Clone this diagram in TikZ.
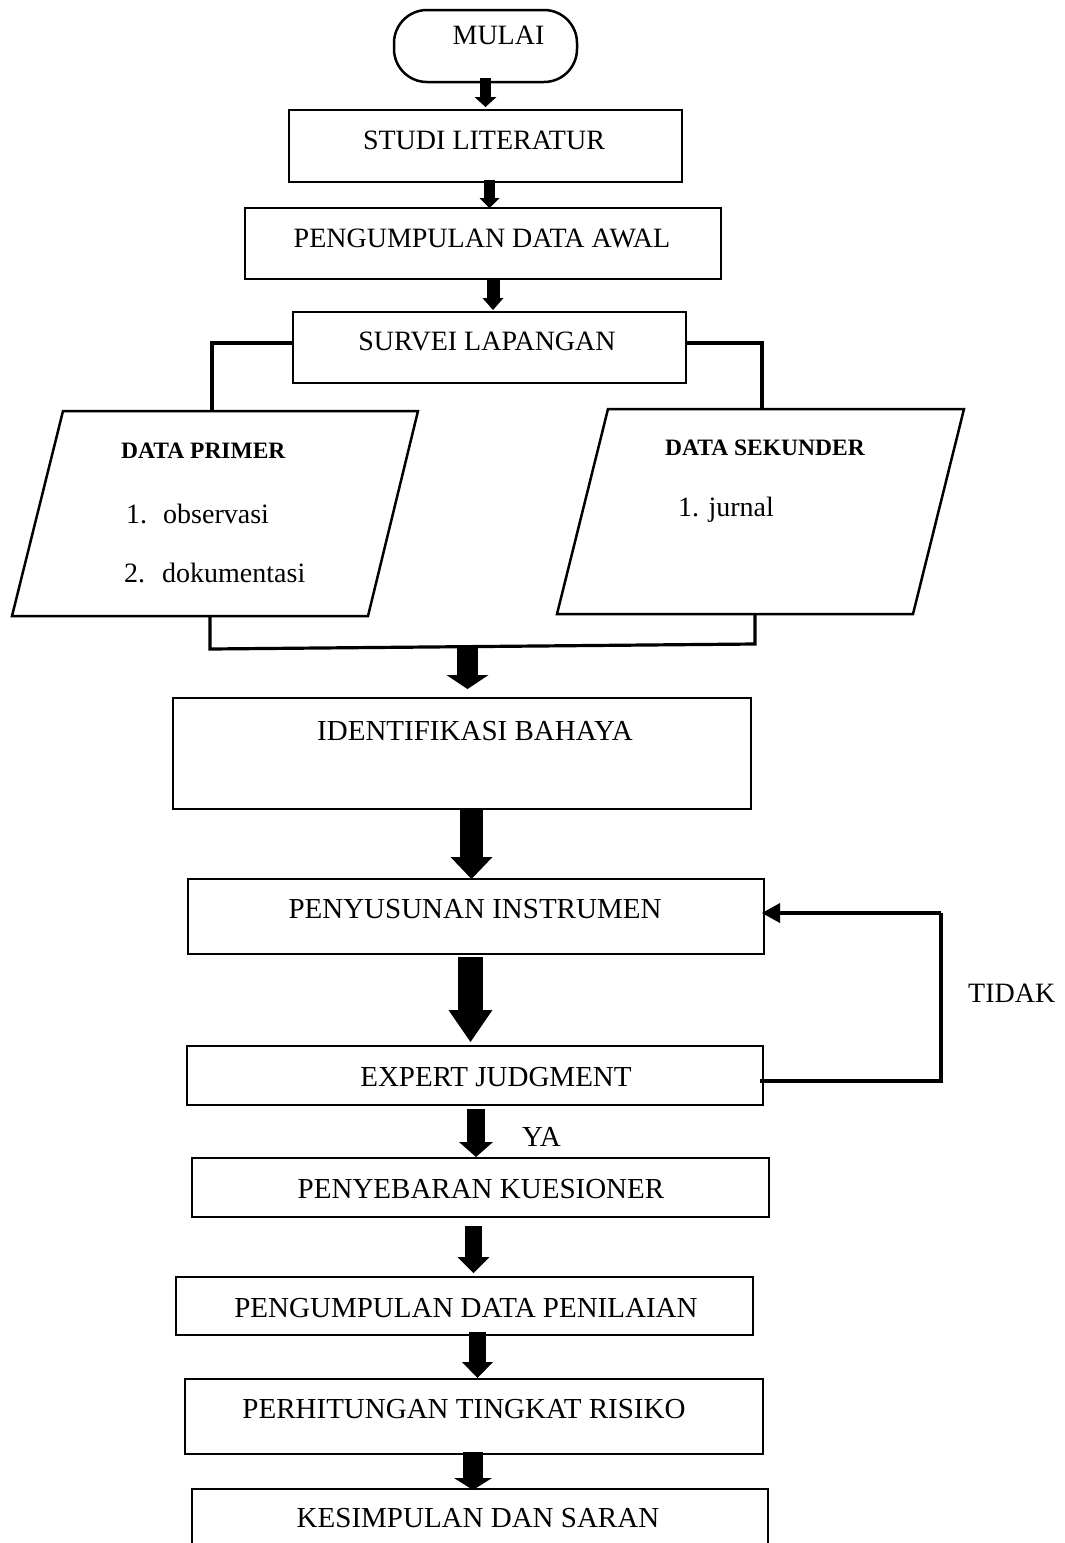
\documentclass[tikz,border=0pt]{standalone}
\usepackage{fontspec}
\setmainfont{Liberation Serif}
\usetikzlibrary{arrows.meta}
\begin{document}
\begin{tikzpicture}[x=1pt,y=-1pt,
  box/.style={draw, line width=2.5pt, inner sep=0pt, outer sep=0pt, line join=miter},
  tup/.style={anchor=base, inner sep=0pt, font=\fontsize{28}{30}\selectfont},
  tlo/.style={anchor=base, inner sep=0pt, font=\fontsize{29}{31}\selectfont},
  tbold/.style={anchor=base west, inner sep=0pt, font=\fontsize{23.5}{26}\selectfont\bfseries},
  titem/.style={anchor=base west, inner sep=0pt, font=\fontsize{28}{30}\selectfont},
  conn/.style={line width=3.2pt, line join=miter},
  blk/.style n args={3}{line width=#1, -{Triangle[width=#2,length=#3,line width=0pt]}},
  loopar/.style={line width=3.2pt, -{Triangle[width=20pt,length=18pt,line width=0pt]}}]
\useasboundingbox (0,0) rectangle (1065,1543);
\fill[white] (0,0) rectangle (1065,1543);
\clip (0,0) rectangle (1065,1543);

% boxes
\node[box, rounded corners=33pt, minimum width=183pt, minimum height=72pt] (mulai) at (485.5,46) {};
\node[box, minimum width=393pt, minimum height=72pt] (studi) at (485.5,146) {};
\node[box, minimum width=476pt, minimum height=71pt] (awal) at (483,243.5) {};
\node[box, minimum width=393pt, minimum height=71pt] (survei) at (489.5,347.5) {};
\node[box, minimum width=578pt, minimum height=111pt] (ident) at (462,753.5) {};
\node[box, minimum width=576pt, minimum height=75pt] (penyusunan) at (476,916.5) {};
\node[box, minimum width=576pt, minimum height=59pt] (expert) at (475,1075.5) {};
\node[box, minimum width=577pt, minimum height=59pt] (penyebaran) at (480.5,1187.5) {};
\node[box, minimum width=577pt, minimum height=58pt] (penilaian) at (464.5,1306) {};
\node[box, minimum width=578pt, minimum height=75pt] (perhitungan) at (474,1416.5) {};
\node[box, minimum width=576pt, minimum height=111pt] (kesimpulan) at (480,1544.5) {};

% parallelograms
\coordinate (pTL) at (63,411);  \coordinate (pTR) at (418,411);
\coordinate (pBR) at (368,616); \coordinate (pBL) at (12,616);
\draw[box] (pTL) -- (pTR) -- (pBR) -- (pBL) -- cycle;
\coordinate (sTL) at (608,409); \coordinate (sTR) at (964,409);
\coordinate (sBR) at (913,614); \coordinate (sBL) at (557,614);
\draw[box] (sTL) -- (sTR) -- (sBR) -- (sBL) -- cycle;

% texts
\node[tup] (tmulai) at (498.5,44) {MULAI};
\node[tup] (tstudi) at (484,149) {STUDI LITERATUR};
\node[tup] (tawal) at (482,247) {PENGUMPULAN DATA AWAL};
\node[tup] (tsurvei) at (487,350) {SURVEI LAPANGAN};
\node[tbold] (tprimer) at (121,458) {DATA PRIMER};
\node[titem] (tobs) at (126,523) {\makebox[37pt][l]{1.}observasi};
\node[titem] (tdok) at (124,582) {\makebox[38pt][l]{2.}dokumentasi};
\node[tbold] (tsekunder) at (665,455) {DATA SEKUNDER};
\node[titem] (tjurnal) at (678,516) {1. jurnal};
\node[tlo] (tident) at (475,740) {IDENTIFIKASI BAHAYA};
\node[tlo] (tpenyusunan) at (475,918) {PENYUSUNAN INSTRUMEN};
\node[tlo] (texpert) at (496,1086) {EXPERT JUDGMENT};
\node[tlo] (tpenyebaran) at (481,1198) {PENYEBARAN KUESIONER};
\node[tlo] (tpenilaian) at (466,1317) {PENGUMPULAN DATA PENILAIAN};
\node[tlo] (tperhitungan) at (464,1418) {PERHITUNGAN TINGKAT RISIKO};
\node[tlo] (tkesimpulan) at (478,1527) {KESIMPULAN DAN SARAN};
\node[tup, anchor=base west] (ttidak) at (968,1002) {TIDAK};
\node[tlo, anchor=base west] (tya) at (522,1146) {YA};

% branch connectors
\coordinate (ptop) at (212,411);
\coordinate (stop) at (762,409);
\coordinate (pbot) at (210,616);
\coordinate (sbot) at (755,614);
\coordinate (mL) at (210,649);
\coordinate (mR) at (755,644);
\coordinate (m) at (467.5,647);
\draw[conn] ([yshift=4.5pt]survei.west) -| (ptop);
\draw[conn] ([yshift=4.5pt]survei.east) -| (stop);
\draw[conn] (pbot) -- (mL) -- (mR) -- (sbot);

% block arrows
\draw[blk={11pt}{22pt}{10pt}] ([yshift=4pt]mulai.south) -- ([yshift=3pt]studi.north);
\draw[blk={11pt}{20pt}{10pt}] ([xshift=4pt,yshift=2pt]studi.south) -- ([xshift=6.5pt]awal.north);
\draw[blk={13pt}{21pt}{12pt}] ([xshift=10pt,yshift=-1pt]awal.south) -- ([xshift=3.5pt,yshift=2pt]survei.north);
\draw[blk={21pt}{42pt}{14pt}] (m) -- ([xshift=5.5pt,yshift=9pt]ident.north);
\draw[blk={23pt}{42pt}{22pt}] ([xshift=9.5pt]ident.south) -- ([xshift=-4.5pt]penyusunan.north);
\draw[blk={25pt}{44pt}{32pt}] ([xshift=-5.5pt,yshift=-3pt]penyusunan.south) -- ([xshift=-4.5pt,yshift=4pt]expert.north);
\draw[blk={18pt}{34pt}{15pt}] ([xshift=1pt,yshift=-4pt]expert.south) -- ([xshift=-4.5pt,yshift=1pt]penyebaran.north);
\draw[blk={17pt}{32pt}{16pt}] ([xshift=-7pt,yshift=-9pt]penyebaran.south) -- ([xshift=9pt,yshift=4pt]penilaian.north);
\draw[blk={17pt}{31pt}{16pt}] ([xshift=13pt,yshift=3pt]penilaian.south) -- ([xshift=3.5pt,yshift=1pt]perhitungan.north);
\draw[blk={20pt}{38pt}{12pt}] ([xshift=-1pt,yshift=2pt]perhitungan.south) -- ([xshift=-7pt,yshift=-1pt]kesimpulan.north);

% feedback loop
\coordinate (lb) at (941,1081);
\coordinate (lt) at (941,913);
\draw[conn] ([xshift=-3pt,yshift=-5.5pt]expert.east) -- (lb) -- (lt);
\draw[loopar] (lt) -- ([xshift=-2pt,yshift=3.5pt]penyusunan.east);
\end{tikzpicture}
\end{document}
